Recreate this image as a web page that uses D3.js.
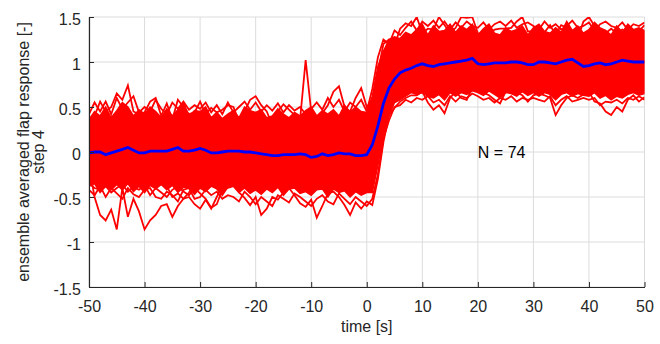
<!DOCTYPE html>
<html>
<head>
<meta charset="utf-8">
<script src="https://cdn.jsdelivr.net/npm/d3@7"></script>
<style>
  body { margin: 0; background: #fff; }
  svg { display: block; font-family: "Liberation Sans", Arial, Helvetica, sans-serif; }
</style>
</head>
<body>
<svg width="660" height="344"></svg>
<script>
// sample times [s], one per second
var time = [-50,-49,-48,-47,-46,-45,-44,-43,-42,-41,
  -40,-39,-38,-37,-36,-35,-34,-33,-32,-31,
  -30,-29,-28,-27,-26,-25,-24,-23,-22,-21,
  -20,-19,-18,-17,-16,-15,-14,-13,-12,-11,
  -10,-9,-8,-7,-6,-5,-4,-3,-2,-1,
  0,1,2,3,4,5,6,7,8,9,
  10,11,12,13,14,15,16,17,18,19,
  20,21,22,23,24,25,26,27,28,29,
  30,31,32,33,34,35,36,37,38,39,
  40,41,42,43,44,45,46,47,48,49,
  50];

// ensemble mean (blue)
var meanResp = [-0.01,0.00,0.00,-0.03,-0.01,0.01,0.03,0.05,0.02,-0.01,
  -0.01,0.01,0.01,0.01,0.01,0.03,0.05,0.01,0.01,0.02,
  0.04,0.02,-0.01,-0.01,0.00,0.01,0.01,0.01,0.00,0.00,
  -0.01,-0.02,-0.03,-0.04,-0.04,-0.03,-0.03,-0.03,-0.02,-0.03,
  -0.06,-0.05,-0.02,-0.04,-0.03,-0.01,-0.02,-0.02,-0.04,-0.04,
  -0.03,0.08,0.29,0.54,0.71,0.81,0.88,0.91,0.93,0.96,
  0.98,0.96,0.95,0.97,0.98,0.99,1.00,1.01,1.02,1.04,
  0.98,0.97,0.98,0.99,0.99,0.99,1.00,1.00,0.99,0.97,
  0.97,1.00,1.00,0.99,0.98,1.00,1.02,1.03,0.99,0.95,
  0.96,0.98,0.99,0.97,0.98,1.00,1.02,1.01,1.00,1.00,
  1.00];

// densely overlapped part of the 74 single responses (upper / lower edge)
var bandHi = [0.36,0.45,0.40,0.50,0.38,0.46,0.55,0.50,0.40,0.47,
  0.42,0.50,0.45,0.38,0.48,0.40,0.47,0.55,0.40,0.46,
  0.45,0.50,0.38,0.44,0.37,0.42,0.46,0.38,0.50,0.46,
  0.44,0.47,0.38,0.40,0.48,0.42,0.38,0.44,0.40,0.46,
  0.50,0.40,0.46,0.42,0.47,0.40,0.52,0.44,0.50,0.45,
  0.44,0.62,0.95,1.12,1.25,1.28,1.26,1.33,1.30,1.36,
  1.42,1.30,1.40,1.34,1.35,1.42,1.33,1.40,1.36,1.42,
  1.30,1.37,1.42,1.32,1.30,1.38,1.34,1.36,1.40,1.30,
  1.38,1.42,1.34,1.32,1.38,1.33,1.45,1.35,1.40,1.32,
  1.36,1.44,1.38,1.35,1.30,1.40,1.33,1.42,1.36,1.38,
  1.35];
var bandLo = [-0.38,-0.35,-0.45,-0.38,-0.42,-0.36,-0.42,-0.35,-0.44,-0.38,
  -0.45,-0.37,-0.41,-0.36,-0.42,-0.37,-0.45,-0.39,-0.40,-0.47,
  -0.40,-0.44,-0.38,-0.41,-0.48,-0.39,-0.37,-0.45,-0.40,-0.46,
  -0.42,-0.47,-0.41,-0.45,-0.39,-0.48,-0.41,-0.40,-0.46,-0.44,
  -0.48,-0.42,-0.41,-0.50,-0.41,-0.45,-0.43,-0.50,-0.44,-0.48,
  -0.45,-0.45,-0.15,0.20,0.40,0.55,0.58,0.62,0.66,0.64,
  0.66,0.62,0.60,0.64,0.58,0.66,0.62,0.66,0.64,0.68,
  0.66,0.63,0.68,0.64,0.60,0.66,0.65,0.62,0.67,0.63,
  0.66,0.62,0.66,0.64,0.58,0.64,0.66,0.62,0.65,0.63,
  0.62,0.66,0.60,0.63,0.58,0.62,0.60,0.64,0.66,0.63,
  0.65];

// single responses along the outer fringe
var upperPeak = [0.36,0.40,0.56,0.45,0.50,0.65,0.58,0.74,0.45,0.42,
  0.44,0.56,0.60,0.40,0.54,0.36,0.58,0.50,0.42,0.44,
  0.56,0.42,0.49,0.44,0.47,0.52,0.50,0.34,0.45,0.58,
  0.62,0.52,0.45,0.30,0.45,0.53,0.47,0.41,0.36,1.02,
  0.45,0.36,0.43,0.52,0.67,0.73,0.50,0.45,0.60,0.71,
  0.50,0.58,0.88,1.20,1.25,1.18,1.37,1.43,1.40,1.50,
  1.32,1.37,1.36,1.50,1.41,1.32,1.38,1.50,1.49,1.50,
  1.32,1.26,1.30,1.36,1.37,1.37,1.38,1.45,1.50,1.34,
  1.34,1.30,1.33,1.41,1.30,1.41,1.38,1.30,1.26,1.45,
  1.50,1.40,1.30,1.32,1.37,1.32,1.36,1.33,1.30,1.34,
  1.41];
var upperPeak2 = [0.42,0.55,0.45,0.56,0.42,0.60,0.48,0.55,0.62,0.44,
  0.50,0.45,0.58,0.48,0.42,0.55,0.48,0.56,0.47,0.52,
  0.48,0.55,0.44,0.52,0.42,0.55,0.44,0.50,0.56,0.47,
  0.55,0.45,0.52,0.46,0.54,0.44,0.52,0.46,0.50,0.42,
  0.48,0.55,0.47,0.60,0.50,0.58,0.45,0.55,0.50,0.58,
  0.45,0.70,1.05,1.25,1.20,1.35,1.30,1.38,1.45,1.35,
  1.45,1.40,1.46,1.38,1.45,1.36,1.44,1.38,1.45,1.40,
  1.38,1.44,1.36,1.42,1.45,1.40,1.46,1.38,1.42,1.44,
  1.40,1.36,1.45,1.38,1.42,1.36,1.40,1.46,1.38,1.40,
  1.44,1.35,1.42,1.45,1.40,1.38,1.44,1.36,1.42,1.40,
  1.44];
var lowerPeak = [-0.35,-0.40,-0.42,-0.38,-0.45,-0.40,-0.36,-0.44,-0.39,-0.42,
  -0.37,-0.48,-0.40,-0.45,-0.50,-0.42,-0.38,-0.44,-0.48,-0.40,
  -0.46,-0.52,-0.62,-0.58,-0.42,-0.40,-0.38,-0.45,-0.51,-0.59,
  -0.50,-0.70,-0.63,-0.50,-0.53,-0.45,-0.40,-0.48,-0.57,-0.61,
  -0.53,-0.73,-0.60,-0.46,-0.44,-0.50,-0.59,-0.70,-0.56,-0.63,
  -0.55,-0.59,-0.30,0.11,0.41,0.49,0.56,0.60,0.63,0.63,
  0.67,0.55,0.47,0.52,0.43,0.60,0.67,0.60,0.58,0.71,
  0.70,0.66,0.63,0.58,0.54,0.67,0.71,0.66,0.63,0.56,
  0.63,0.65,0.63,0.60,0.41,0.52,0.60,0.63,0.60,0.64,
  0.67,0.56,0.54,0.45,0.41,0.50,0.45,0.58,0.63,0.56,
  0.61];
var lowerPeak2 = [-0.42,-0.48,-0.38,-0.50,-0.40,-0.46,-0.52,-0.40,-0.47,-0.50,
  -0.42,-0.40,-0.50,-0.52,-0.44,-0.48,-0.55,-0.42,-0.40,-0.52,
  -0.50,-0.42,-0.48,-0.44,-0.52,-0.48,-0.50,-0.55,-0.44,-0.50,
  -0.58,-0.50,-0.55,-0.60,-0.48,-0.52,-0.56,-0.46,-0.50,-0.55,
  -0.60,-0.52,-0.48,-0.55,-0.58,-0.46,-0.52,-0.58,-0.50,-0.55,
  -0.60,-0.52,-0.25,0.15,0.35,0.50,0.52,0.58,0.55,0.60,
  0.58,0.62,0.55,0.58,0.52,0.62,0.56,0.62,0.60,0.65,
  0.62,0.58,0.60,0.55,0.60,0.58,0.62,0.56,0.60,0.58,
  0.60,0.58,0.56,0.62,0.52,0.58,0.62,0.56,0.58,0.60,
  0.58,0.60,0.52,0.56,0.55,0.58,0.54,0.60,0.58,0.62,
  0.58];

// two low outlier responses at the start
var outlierTimeA = [-50,-49,-48,-47,-46,-45,-44,-43,-42,-41,-40,-39,-38,-37,-36,-35,-34,-33,-32,-31];
var outlierA = [-0.15,-0.50,-0.70,-0.76,-0.64,-0.86,-0.40,-0.72,-0.52,-0.66,
  -0.86,-0.76,-0.70,-0.60,-0.58,-0.72,-0.60,-0.52,-0.45,-0.36];
var outlierTimeB = [-36,-35,-34,-33,-32,-31,-30,-29,-28,-27,-26,-25];
var outlierB = [-0.38,-0.50,-0.46,-0.52,-0.50,-0.58,-0.63,-0.53,-0.63,-0.50,-0.38,-0.34];

var xTicks = [-50, -40, -30, -20, -10, 0, 10, 20, 30, 40, 50];
var yTicks = [-1.5, -1, -0.5, 0, 0.5, 1, 1.5];

(function () {
  'use strict';
  var left = 89, right = 644.5, top = 17, bottom = 287;
  var axisColor = '#262626';
  var gridColor = '#dcdcdc';

  var svg = d3.select('svg');
  var x = d3.scaleLinear().domain([-50, 50]).range([left, right]);
  var y = d3.scaleLinear().domain([-1.5, 1.5]).range([bottom, top]);

  svg.append('defs').append('clipPath').attr('id', 'plotClip')
    .append('rect')
    .attr('x', left).attr('y', top)
    .attr('width', right - left).attr('height', bottom - top);

  // grid
  var grid = svg.append('g');
  grid.selectAll('line.gx').data(xTicks).enter().append('line')
    .attr('x1', function (d) { return x(d); })
    .attr('x2', function (d) { return x(d); })
    .attr('y1', top).attr('y2', bottom)
    .attr('stroke', gridColor).attr('stroke-width', 1);
  grid.selectAll('line.gy').data(yTicks).enter().append('line')
    .attr('y1', function (d) { return y(d); })
    .attr('y2', function (d) { return y(d); })
    .attr('x1', left).attr('x2', right)
    .attr('stroke', gridColor).attr('stroke-width', 1);

  var plot = svg.append('g').attr('clip-path', 'url(#plotClip)');

  var band = d3.area()
    .x(function (d, i) { return x(time[i]); })
    .y0(function (d, i) { return y(bandLo[i]); })
    .y1(function (d) { return y(d); });

  plot.append('path').datum(bandHi)
    .attr('d', band)
    .attr('fill', '#ff0000')
    .attr('stroke', '#ff0000')
    .attr('stroke-width', 1.5);

  function trace (times) {
    return d3.line()
      .x(function (d, i) { return x(times[i]); })
      .y(function (d) { return y(d); });
  }

  [upperPeak2, lowerPeak2, upperPeak, lowerPeak].forEach(function (s) {
    plot.append('path').datum(s)
      .attr('d', trace(time))
      .attr('fill', 'none')
      .attr('stroke', '#ff0000')
      .attr('stroke-width', 1.8);
  });

  plot.append('path').datum(outlierA)
    .attr('d', trace(outlierTimeA))
    .attr('fill', 'none').attr('stroke', '#ff0000').attr('stroke-width', 1.8);
  plot.append('path').datum(outlierB)
    .attr('d', trace(outlierTimeB))
    .attr('fill', 'none').attr('stroke', '#ff0000').attr('stroke-width', 1.8);

  plot.append('path').datum(meanResp)
    .attr('d', trace(time))
    .attr('fill', 'none')
    .attr('stroke', '#0000ff')
    .attr('stroke-width', 2.8);

  // axes
  var fmt = function (d) { return String(d); };
  var xAxis = svg.append('g')
    .attr('transform', 'translate(0,' + bottom + ')')
    .call(d3.axisBottom(x).tickValues(xTicks).tickFormat(fmt)
      .tickSizeInner(-5).tickSizeOuter(0).tickPadding(14));
  var yAxis = svg.append('g')
    .attr('transform', 'translate(' + left + ',0)')
    .call(d3.axisLeft(y).tickValues(yTicks).tickFormat(fmt)
      .tickSizeInner(-5).tickSizeOuter(0).tickPadding(8));

  [xAxis, yAxis].forEach(function (a) {
    a.select('.domain').attr('stroke', axisColor).attr('stroke-width', 1.2);
    a.selectAll('.tick line').attr('stroke', axisColor);
    a.selectAll('.tick text')
      .attr('fill', axisColor)
      .style('font-size', '16px');
  });
  yAxis.selectAll('.tick text').attr('dy', '0.44em');

  svg.append('text')
    .attr('x', (left + right) / 2).attr('y', 332)
    .attr('text-anchor', 'middle')
    .attr('fill', axisColor)
    .style('font-size', '16px')
    .text('time [s]');

  var yl = svg.append('text')
    .attr('transform', 'translate(29,' + ((top + bottom) / 2) + ') rotate(-90)')
    .attr('text-anchor', 'middle')
    .attr('fill', axisColor)
    .style('font-size', '16px');
  yl.append('tspan').attr('x', 0).attr('dy', 0).text('ensemble averaged flap response [-]');
  yl.append('tspan').attr('x', 0).attr('dy', '0.95em').text('step 4');

  svg.append('text')
    .attr('x', x(20)).attr('y', y(0))
    .attr('dy', '0.35em')
    .attr('fill', '#000')
    .style('font-size', '16px')
    .text('N = 74');
})();
</script>
</body>
</html>
